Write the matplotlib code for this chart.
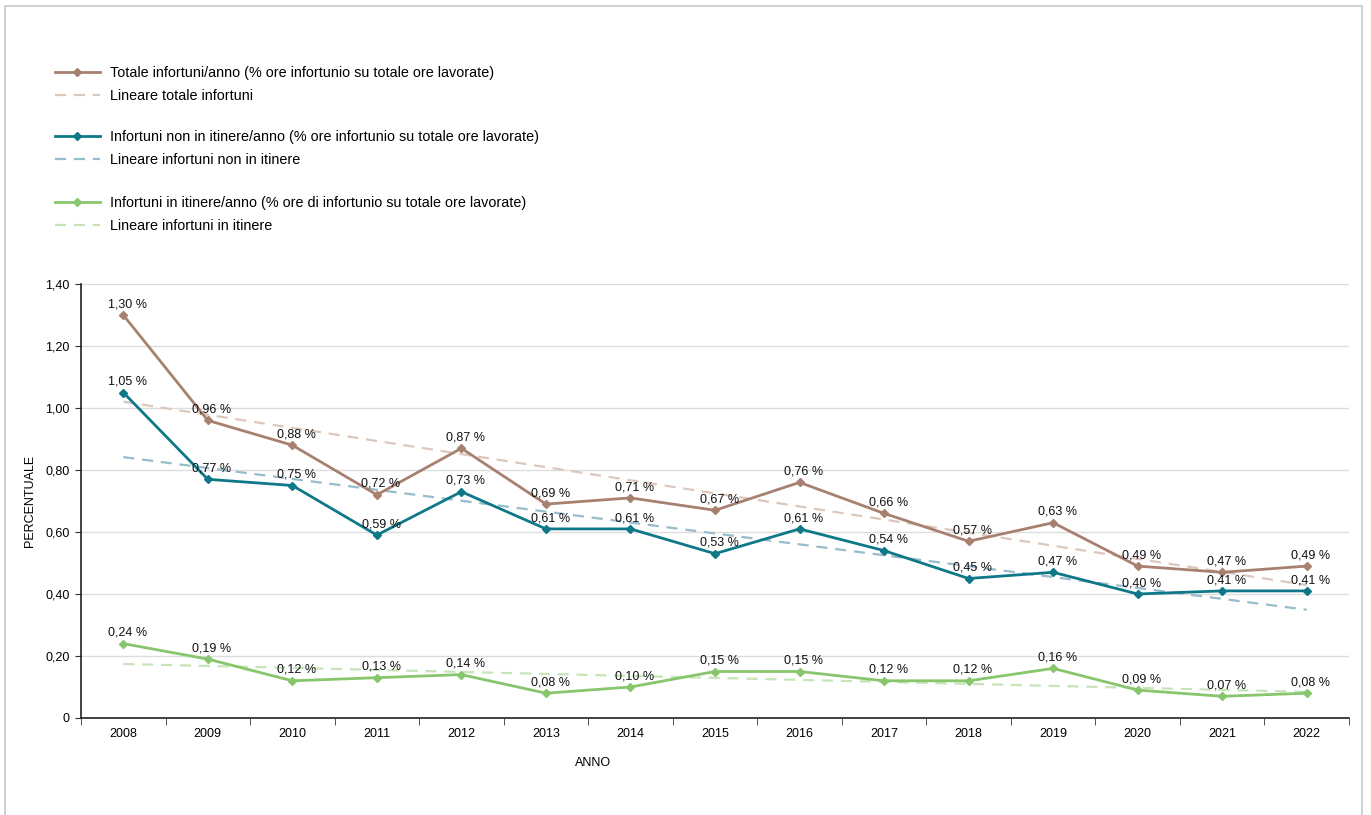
"""
Infortuni 2008-2022: % ore infortunio su totale ore lavorate, con linee di tendenza lineari
"""

import numpy as np
import matplotlib.pyplot as plt
from matplotlib.lines import Line2D
from matplotlib.patches import Rectangle

anni = ['2008', '2009', '2010', '2011', '2012', '2013', '2014', '2015',
        '2016', '2017', '2018', '2019', '2020', '2021', '2022']
totale = [1.30, 0.96, 0.88, 0.72, 0.87, 0.69, 0.71, 0.67, 0.76, 0.66, 0.57, 0.63, 0.49, 0.47, 0.49]
non_itinere = [1.05, 0.77, 0.75, 0.59, 0.73, 0.61, 0.61, 0.53, 0.61, 0.54, 0.45, 0.47, 0.40, 0.41, 0.41]
itinere = [0.24, 0.19, 0.12, 0.13, 0.14, 0.08, 0.10, 0.15, 0.15, 0.12, 0.12, 0.16, 0.09, 0.07, 0.08]

y_ticks = [0, 0.2, 0.4, 0.6, 0.8, 1.0, 1.2, 1.4]

series = [
    (totale, '#a8806f', '#dcc7bd',
     'Totale infortuni/anno (% ore infortunio su totale ore lavorate)',
     'Lineare totale infortuni'),
    (non_itinere, '#0f7888', '#97bccb',
     'Infortuni non in itinere/anno (% ore infortunio su totale ore lavorate)',
     'Lineare infortuni non in itinere'),
    (itinere, '#87c66c', '#c6e4b8',
     'Infortuni in itinere/anno (% ore di infortunio su totale ore lavorate)',
     'Lineare infortuni in itinere'),
]

plt.rcParams['font.family'] = ['Liberation Sans', 'DejaVu Sans']

W, H = 1371, 815
fig = plt.figure(figsize=(W / 100, H / 100), dpi=100)
ax = fig.add_axes([81 / W, 1 - 718 / H, (1349 - 81) / W, (718 - 284) / H])

# cornice esterna
fig.add_artist(Rectangle((5 / W, -0.01), (1362 - 5) / W, 1.01 - 6 / H,
                         transform=fig.transFigure, fill=False,
                         edgecolor='#c8c8c8', linewidth=1.2))

x = np.arange(len(anni))
legend_groups = []
for vals, c, ct, lab, lab_t in series:
    vals = np.array(vals)
    ax.plot(x, vals, color=c, linewidth=2, marker='D', markersize=4.5, zorder=3)
    k, q = np.polyfit(x, vals, 1)
    ax.plot(x, k * x + q, color=ct, linewidth=1.6, linestyle=(0, (5, 3.5)), zorder=2)
    for xi, v in zip(x, vals):
        ax.annotate(f'{v:.2f} %'.replace('.', ','), (xi, v), xytext=(3, 3.5),
                    textcoords='offset points', ha='center', va='bottom',
                    fontsize=9, color='#111111', zorder=4)
    legend_groups.append((
        [Line2D([], [], color=c, linewidth=2, marker='D', markersize=4.5),
         Line2D([], [], color=ct, linewidth=1.6, linestyle=(0, (5, 3.5)))],
        [lab, lab_t]))

ax.set_xlim(-0.5, len(anni) - 0.5)
ax.set_ylim(0, 1.4)
ax.set_yticks(y_ticks)
ax.set_yticklabels(['0'] + [f'{v:.2f}'.replace('.', ',') for v in y_ticks[1:]])
ax.set_xticks(x)
ax.set_xticklabels(anni)
ax.set_xticks(np.arange(-0.5, len(anni)), minor=True)
ax.tick_params(axis='x', which='major', length=0, pad=7, labelsize=9)
ax.tick_params(axis='x', which='minor', length=5, direction='out', color='#333333')
ax.tick_params(axis='y', length=4, direction='out', pad=4, labelsize=9, color='#333333')
ax.grid(axis='y', color='#dddddd', linewidth=1)
ax.set_axisbelow(True)
for s in ['top', 'right']:
    ax.spines[s].set_visible(False)
for s in ['left', 'bottom']:
    ax.spines[s].set_color('#222222')
    ax.spines[s].set_linewidth(1.2)

ax.set_ylabel('PERCENTUALE', fontsize=9)
ax.yaxis.set_label_coords((36 - 81) / (1349 - 81), 0.5)
ax.set_xlabel('ANNO', fontsize=9)
ax.xaxis.set_label_coords((593 - 81) / (1349 - 81), -(757 - 718) / (718 - 284))

# legenda in tre gruppi
for (handles, labels), yc in zip(legend_groups, [84.5, 148.5, 214.5]):
    leg = fig.legend(handles, labels, loc='center left',
                     bbox_to_anchor=(55 / W, 1 - yc / H), frameon=False,
                     fontsize=10.4, handlelength=3.1, handletextpad=0.7,
                     labelspacing=0.67, borderpad=0, borderaxespad=0)

fig.savefig('out.png', dpi=100)
